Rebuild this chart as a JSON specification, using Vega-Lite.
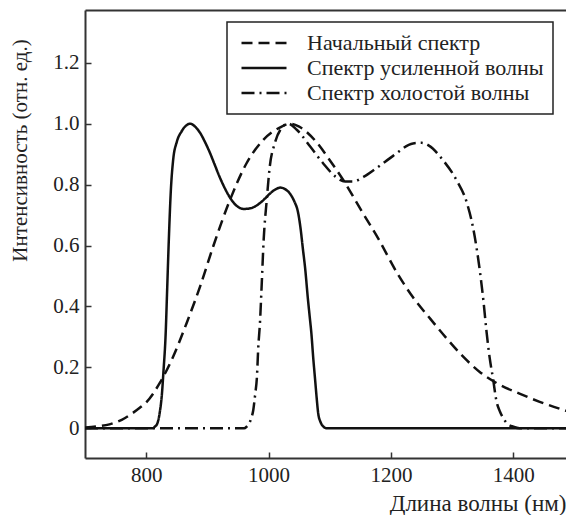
{
  "$schema": "https://vega.github.io/schema/vega-lite/v6.json",
  "width": 481,
  "height": 448,
  "autosize": {"type": "none"},
  "padding": {"left": 85, "top": 10, "right": 0, "bottom": 57},
  "background": "white",
  "config": {
    "view": {"stroke": null},
    "font": "'Liberation Serif', 'Times New Roman', 'DejaVu Serif', serif",
    "axis": {
      "domainColor": "#333", "domainWidth": 2, "tickColor": "#333", "tickWidth": 1.5,
      "grid": false, "labelFont": "'Liberation Serif', 'Times New Roman', 'DejaVu Serif', serif", "labelFontSize": 21, "labelColor": "#222",
      "titleFont": "'Liberation Serif', 'Times New Roman', 'DejaVu Serif', serif", "titleFontSize": 21, "titleFontWeight": "normal", "titleColor": "#222"
    },
    "legend": {
      "orient": "none", "legendX": 142, "legendY": 12,
      "strokeColor": "#222", "strokeWidth": 1.5, "padding": 9,
      "labelFont": "'Liberation Serif', 'Times New Roman', 'DejaVu Serif', serif", "labelFontSize": 22, "labelColor": "#222", "labelLimit": 400,
      "symbolType": "stroke", "symbolSize": 2025, "symbolStrokeWidth": 2.5, "symbolStrokeColor": "#111",
      "clipHeight": 24, "rowPadding": 1, "labelOffset": 19, "symbolOffset": 4, "title": null
    }
  },
  "data": {"values": [
    {"s": "Начальный спектр", "x": 700, "y": 0.003},
    {"s": "Начальный спектр", "x": 720, "y": 0.006},
    {"s": "Начальный спектр", "x": 740, "y": 0.013},
    {"s": "Начальный спектр", "x": 760, "y": 0.028},
    {"s": "Начальный спектр", "x": 775, "y": 0.046},
    {"s": "Начальный спектр", "x": 790, "y": 0.068},
    {"s": "Начальный спектр", "x": 800, "y": 0.085},
    {"s": "Начальный спектр", "x": 822, "y": 0.148},
    {"s": "Начальный спектр", "x": 844, "y": 0.235},
    {"s": "Начальный спектр", "x": 866, "y": 0.345},
    {"s": "Начальный спектр", "x": 888, "y": 0.465},
    {"s": "Начальный спектр", "x": 910, "y": 0.6},
    {"s": "Начальный спектр", "x": 937, "y": 0.75},
    {"s": "Начальный спектр", "x": 964, "y": 0.87},
    {"s": "Начальный спектр", "x": 991, "y": 0.946},
    {"s": "Начальный спектр", "x": 1019, "y": 0.988},
    {"s": "Начальный спектр", "x": 1035, "y": 1.0},
    {"s": "Начальный спектр", "x": 1050, "y": 0.99},
    {"s": "Начальный спектр", "x": 1078, "y": 0.94},
    {"s": "Начальный спектр", "x": 1100, "y": 0.88},
    {"s": "Начальный спектр", "x": 1122, "y": 0.815},
    {"s": "Начальный спектр", "x": 1150, "y": 0.72},
    {"s": "Начальный спектр", "x": 1180, "y": 0.62},
    {"s": "Начальный спектр", "x": 1210, "y": 0.51},
    {"s": "Начальный спектр", "x": 1236, "y": 0.43},
    {"s": "Начальный спектр", "x": 1264, "y": 0.36},
    {"s": "Начальный спектр", "x": 1291, "y": 0.295},
    {"s": "Начальный спектр", "x": 1318, "y": 0.235},
    {"s": "Начальный спектр", "x": 1345, "y": 0.185},
    {"s": "Начальный спектр", "x": 1373, "y": 0.148},
    {"s": "Начальный спектр", "x": 1411, "y": 0.113},
    {"s": "Начальный спектр", "x": 1443, "y": 0.087},
    {"s": "Начальный спектр", "x": 1490, "y": 0.055},
    {"s": "Спектр усиленной волны", "x": 700, "y": 0},
    {"s": "Спектр усиленной волны", "x": 810, "y": 0},
    {"s": "Спектр усиленной волны", "x": 814, "y": 0.005},
    {"s": "Спектр усиленной волны", "x": 818, "y": 0.015},
    {"s": "Спектр усиленной волны", "x": 822, "y": 0.05},
    {"s": "Спектр усиленной волны", "x": 826, "y": 0.12},
    {"s": "Спектр усиленной волны", "x": 828, "y": 0.18},
    {"s": "Спектр усиленной волны", "x": 832, "y": 0.32},
    {"s": "Спектр усиленной волны", "x": 834, "y": 0.44},
    {"s": "Спектр усиленной волны", "x": 837, "y": 0.62},
    {"s": "Спектр усиленной волны", "x": 840, "y": 0.77},
    {"s": "Спектр усиленной волны", "x": 844, "y": 0.88},
    {"s": "Спектр усиленной волны", "x": 850, "y": 0.94},
    {"s": "Спектр усиленной волны", "x": 858, "y": 0.975},
    {"s": "Спектр усиленной волны", "x": 866, "y": 0.995},
    {"s": "Спектр усиленной волны", "x": 872, "y": 1.0},
    {"s": "Спектр усиленной волны", "x": 880, "y": 0.99},
    {"s": "Спектр усиленной волны", "x": 888, "y": 0.97},
    {"s": "Спектр усиленной волны", "x": 896, "y": 0.94},
    {"s": "Спектр усиленной волны", "x": 904, "y": 0.905},
    {"s": "Спектр усиленной волны", "x": 912, "y": 0.865},
    {"s": "Спектр усиленной волны", "x": 920, "y": 0.825},
    {"s": "Спектр усиленной волны", "x": 928, "y": 0.79},
    {"s": "Спектр усиленной волны", "x": 937, "y": 0.757},
    {"s": "Спектр усиленной волны", "x": 948, "y": 0.73},
    {"s": "Спектр усиленной волны", "x": 959, "y": 0.72},
    {"s": "Спектр усиленной волны", "x": 970, "y": 0.722},
    {"s": "Спектр усиленной волны", "x": 981, "y": 0.732},
    {"s": "Спектр усиленной волны", "x": 992, "y": 0.75},
    {"s": "Спектр усиленной волны", "x": 1002, "y": 0.77},
    {"s": "Спектр усиленной волны", "x": 1012, "y": 0.785},
    {"s": "Спектр усиленной волны", "x": 1019, "y": 0.79},
    {"s": "Спектр усиленной волны", "x": 1027, "y": 0.785},
    {"s": "Спектр усиленной волны", "x": 1035, "y": 0.77},
    {"s": "Спектр усиленной волны", "x": 1042, "y": 0.745},
    {"s": "Спектр усиленной волны", "x": 1048, "y": 0.71},
    {"s": "Спектр усиленной волны", "x": 1052, "y": 0.66},
    {"s": "Спектр усиленной волны", "x": 1056, "y": 0.59},
    {"s": "Спектр усиленной волны", "x": 1060, "y": 0.52},
    {"s": "Спектр усиленной волны", "x": 1064, "y": 0.43},
    {"s": "Спектр усиленной волны", "x": 1067, "y": 0.37},
    {"s": "Спектр усиленной волны", "x": 1070, "y": 0.31},
    {"s": "Спектр усиленной волны", "x": 1073, "y": 0.23},
    {"s": "Спектр усиленной волны", "x": 1076, "y": 0.16},
    {"s": "Спектр усиленной волны", "x": 1079, "y": 0.09},
    {"s": "Спектр усиленной волны", "x": 1081, "y": 0.05},
    {"s": "Спектр усиленной волны", "x": 1085, "y": 0.02},
    {"s": "Спектр усиленной волны", "x": 1090, "y": 0.005},
    {"s": "Спектр усиленной волны", "x": 1095, "y": 0},
    {"s": "Спектр усиленной волны", "x": 1490, "y": 0},
    {"s": "Спектр холостой волны", "x": 700, "y": 0},
    {"s": "Спектр холостой волны", "x": 960, "y": 0},
    {"s": "Спектр холостой волны", "x": 964, "y": 0.005},
    {"s": "Спектр холостой волны", "x": 968, "y": 0.015},
    {"s": "Спектр холостой волны", "x": 972, "y": 0.035},
    {"s": "Спектр холостой волны", "x": 975, "y": 0.06},
    {"s": "Спектр холостой волны", "x": 978, "y": 0.11},
    {"s": "Спектр холостой волны", "x": 981, "y": 0.17},
    {"s": "Спектр холостой волны", "x": 983, "y": 0.26},
    {"s": "Спектр холостой волны", "x": 986, "y": 0.35},
    {"s": "Спектр холостой волны", "x": 988.5, "y": 0.46},
    {"s": "Спектр холостой волны", "x": 992, "y": 0.62},
    {"s": "Спектр холостой волны", "x": 997, "y": 0.75},
    {"s": "Спектр холостой волны", "x": 1002, "y": 0.86},
    {"s": "Спектр холостой волны", "x": 1010, "y": 0.935},
    {"s": "Спектр холостой волны", "x": 1021, "y": 0.985},
    {"s": "Спектр холостой волны", "x": 1032, "y": 1.0},
    {"s": "Спектр холостой волны", "x": 1046, "y": 0.98},
    {"s": "Спектр холостой волны", "x": 1068, "y": 0.925},
    {"s": "Спектр холостой волны", "x": 1089, "y": 0.87},
    {"s": "Спектр холостой волны", "x": 1110, "y": 0.825},
    {"s": "Спектр холостой волны", "x": 1125, "y": 0.81},
    {"s": "Спектр холостой волны", "x": 1138, "y": 0.81},
    {"s": "Спектр холостой волны", "x": 1155, "y": 0.825},
    {"s": "Спектр холостой волны", "x": 1177, "y": 0.855},
    {"s": "Спектр холостой волны", "x": 1204, "y": 0.895},
    {"s": "Спектр холостой волны", "x": 1236, "y": 0.935},
    {"s": "Спектр холостой волны", "x": 1250, "y": 0.937},
    {"s": "Спектр холостой волны", "x": 1262, "y": 0.928},
    {"s": "Спектр холостой волны", "x": 1285, "y": 0.88},
    {"s": "Спектр холостой волны", "x": 1307, "y": 0.815},
    {"s": "Спектр холостой волны", "x": 1324, "y": 0.74},
    {"s": "Спектр холостой волны", "x": 1334, "y": 0.66},
    {"s": "Спектр холостой волны", "x": 1345, "y": 0.52},
    {"s": "Спектр холостой волны", "x": 1351, "y": 0.42},
    {"s": "Спектр холостой волны", "x": 1356, "y": 0.32},
    {"s": "Спектр холостой волны", "x": 1361, "y": 0.235},
    {"s": "Спектр холостой волны", "x": 1367, "y": 0.16},
    {"s": "Спектр холостой волны", "x": 1372, "y": 0.093},
    {"s": "Спектр холостой волны", "x": 1378, "y": 0.055},
    {"s": "Спектр холостой волны", "x": 1383, "y": 0.035},
    {"s": "Спектр холостой волны", "x": 1390, "y": 0.015},
    {"s": "Спектр холостой волны", "x": 1400, "y": 0.005},
    {"s": "Спектр холостой волны", "x": 1410, "y": 0},
    {"s": "Спектр холостой волны", "x": 1490, "y": 0}
  ]},
  "resolve": {"axis": {"x": "independent"}},
  "layer": [
    {
      "mark": {"type": "line", "interpolate": "monotone", "strokeWidth": 2.5, "color": "#111", "clip": true},
      "encoding": {
        "x": {
          "field": "x", "type": "quantitative",
          "scale": {"domain": [700, 1486], "nice": false, "zero": false},
          "axis": {
            "orient": "bottom", "values": [800, 1000, 1200, 1400], "format": "d",
            "tickSize": -6, "labelPadding": 12,
            "title": "Длина волны (нм)", "titleAnchor": "end", "titleAlign": "right",
            "titleFontSize": 23,
            "titleX": 481, "titleY": 52, "titleBaseline": "alphabetic"
          }
        },
        "y": {
          "field": "y", "type": "quantitative",
          "scale": {"domain": [-0.0975, 1.373], "nice": false, "zero": false},
          "axis": {
            "values": [0, 0.2, 0.4, 0.6, 0.8, 1.0, 1.2],
            "labelExpr": "datum.value == 0 ? '0' : format(datum.value, '.1f')",
            "tickSize": -6, "labelPadding": 12,
            "title": "Интенсивность (отн. ед.)", "titleAngle": 270,
            "titleX": -65, "titleY": 140, "titleAlign": "center", "titleBaseline": "middle"
          }
        },
        "strokeDash": {
          "field": "s", "type": "nominal",
          "scale": {
            "domain": ["Начальный спектр", "Спектр усиленной волны", "Спектр холостой волны"],
            "range": [[11, 6], [1, 0], [13, 5, 2, 5]]
          },
          "legend": {"title": null}
        }
      }
    },
    {
      "mark": {"type": "line", "opacity": 0},
      "encoding": {
        "x": {
          "field": "x", "type": "quantitative",
          "axis": {"orient": "top", "ticks": false, "labels": false, "domain": true, "title": null}
        },
        "y": {"field": "y", "type": "quantitative"},
        "detail": {"field": "s"}
      }
    }
  ]
}
